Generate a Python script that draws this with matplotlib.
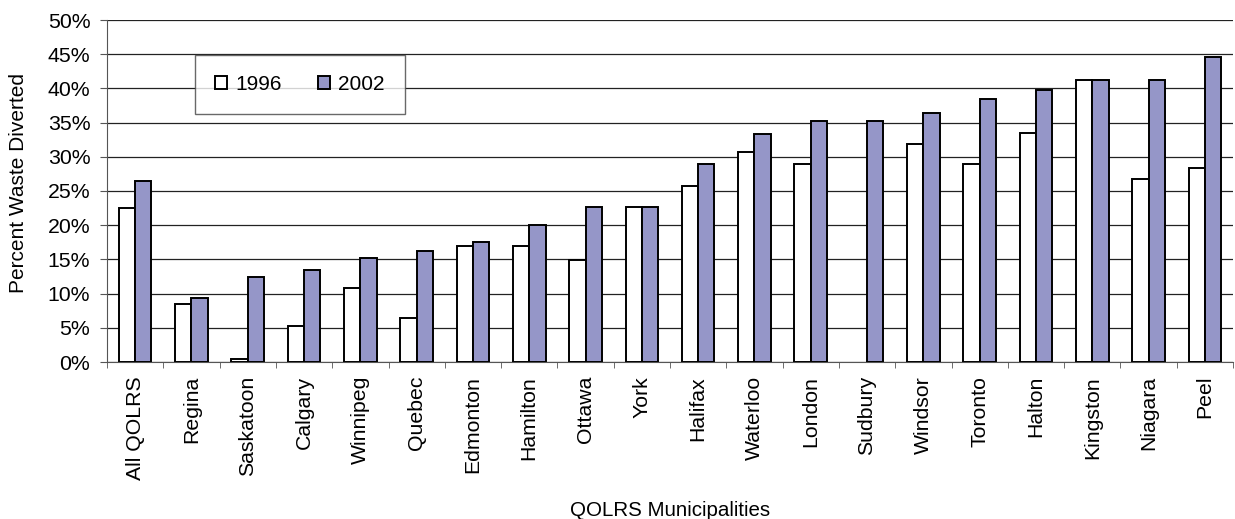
import numpy as np
import matplotlib.pyplot as plt
from matplotlib.ticker import FixedLocator, PercentFormatter

plt.rcParams['font.family'] = ['Liberation Sans', 'DejaVu Sans']

cities = ['All QOLRS', 'Regina', 'Saskatoon', 'Calgary', 'Winnipeg', 'Quebec',
          'Edmonton', 'Hamilton', 'Ottawa', 'York', 'Halifax', 'Waterloo',
          'London', 'Sudbury', 'Windsor', 'Toronto', 'Halton', 'Kingston',
          'Niagara', 'Peel']
y1996 = [22.5, 8.5, 0.5, 5.2, 10.8, 6.4, 16.9, 16.9, 14.9, 22.7, 25.7, 30.7,
         28.9, 0.0, 31.8, 28.9, 33.5, 41.2, 26.8, 28.3]
y2002 = [26.5, 9.3, 12.5, 13.4, 15.2, 16.3, 17.5, 20.1, 22.7, 22.7, 28.9, 33.3,
         35.3, 35.3, 36.4, 38.5, 39.7, 41.2, 41.2, 44.6]

fig = plt.figure(figsize=(12.35, 5.19), dpi=100)
ax = fig.add_axes([107 / 1235, 1 - 362 / 519, 1126 / 1235, 342 / 519])

x = np.arange(len(cities))
w = 0.29
# no outline on empty bars (Sudbury had no 1996 figure)
lw1996 = [0 if v == 0 else 1.4 for v in y1996]
ax.bar(x - w / 2, y1996, w, color='white', edgecolor='black', linewidth=lw1996,
       label='1996', zorder=3)
ax.bar(x + w / 2, y2002, w, color='#9596c8', edgecolor='black', linewidth=1.4,
       label='2002', zorder=3)

ax.set_xlim(-0.5, len(cities) - 0.5)
ax.set_ylim(0, 50)
ax.set_yticks(np.arange(0, 51, 5))
ax.yaxis.set_major_formatter(PercentFormatter(decimals=0))
ax.yaxis.grid(True, color='#222222', linewidth=0.9, zorder=0)

# labels sit under each group, tick marks sit between groups
ax.set_xticks(x)
ax.set_xticklabels(cities, rotation=90, fontsize=15.3)
ax.tick_params(axis='x', which='major', length=0, pad=10)
ax.xaxis.set_minor_locator(FixedLocator(np.arange(-0.5, len(cities), 1)))
ax.tick_params(axis='x', which='minor', length=4.5, color='#555555')
ax.tick_params(axis='y', labelsize=15.3, length=5, pad=7, color='#555555')

for side in ['top', 'right']:
    ax.spines[side].set_visible(False)
ax.spines['left'].set_color('#555555')
ax.spines['bottom'].set_color('#555555')

ax.set_ylabel('Percent Waste Diverted', fontsize=15, va='center')
ax.yaxis.set_label_coords(-88 / 1126, 0.523)
ax.set_xlabel('QOLRS Municipalities', fontsize=14.8, va='center')
ax.xaxis.set_label_coords(0.5, -148 / 342)

leg = ax.legend(loc='upper left', bbox_to_anchor=(88 / 1126, 307 / 342),
                ncol=2, fontsize=15, frameon=True, fancybox=False,
                borderpad=0.95, columnspacing=1.7, handlelength=0.6,
                handleheight=0.6, handletextpad=0.4, borderaxespad=0)
leg.get_frame().set_edgecolor('#444444')
leg.get_frame().set_linewidth(1.0)
leg.set_zorder(5)

fig.savefig('out.png', dpi=100)
